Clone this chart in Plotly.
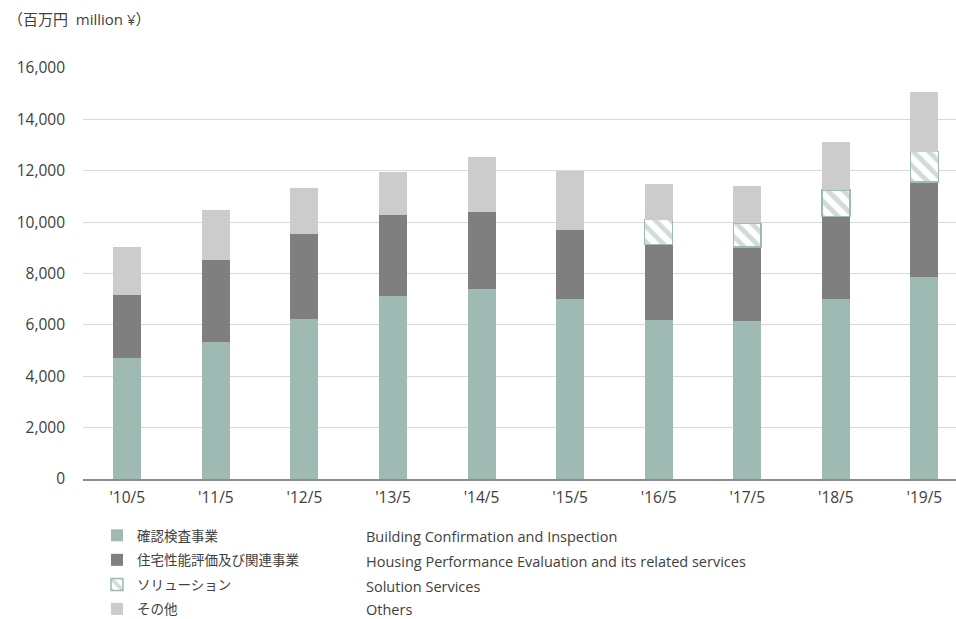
import plotly.graph_objects as go

# ---- data ----
years = ["'10/5", "'11/5", "'12/5", "'13/5", "'14/5", "'15/5", "'16/5", "'17/5", "'18/5", "'19/5"]
confirmation = [4710, 5330, 6230, 7130, 7380, 7000, 6190, 6160, 7020, 7860]
housing = [2440, 3180, 3320, 3140, 3010, 2690, 2930, 2880, 3190, 3700]
solution = [None, None, None, None, None, None, 980, 910, 1040, 1180]
others = [1880, 1960, 1760, 1690, 2130, 2290, 1400, 1440, 1880, 2340]

names_ja = ["確認検査事業", "住宅性能評価及び関連事業", "ソリューション", "その他"]
names_en = ["Building Confirmation and Inspection",
            "Housing Performance Evaluation and its related services",
            "Solution Services", "Others"]
y_ticks = [0, 2000, 4000, 6000, 8000, 10000, 12000, 14000, 16000]

# ---- style / layout constants ----
W, H = 956, 619
L, R, T, B = 83, 956, 68, 479
GREEN, DARK, LIGHT = "#9fbab3", "#7f7f7f", "#cccccc"
FONT = "Open Sans, Noto Sans CJK JP, sans-serif"
TXT = "#404040"


def px(x):
    return (x - L) / (R - L)


def py(y):
    return (B - y) / (B - T)


fig = go.Figure()
fig.add_bar(x=years, y=confirmation, name=names_ja[0], legendgroup="a",
            marker=dict(color=GREEN, line=dict(width=0)))
fig.add_bar(x=years, y=housing, name=names_ja[1], legendgroup="b",
            marker=dict(color=DARK, line=dict(width=0)))
fig.add_bar(x=years, y=solution, name=names_ja[2], legendgroup="c",
            marker=dict(color="white", line=dict(width=1.5, color=GREEN),
                        pattern=dict(shape="\\", fgcolor=GREEN, bgcolor="white",
                                     size=11, solidity=0.45)))
fig.add_bar(x=years, y=others, name=names_ja[3], legendgroup="d",
            marker=dict(color=LIGHT, line=dict(width=0)))

annotations = [dict(text="（百万円  million ¥）", x=px(6), y=py(19), xref="paper", yref="paper",
                    xanchor="left", yanchor="middle", showarrow=False,
                    font=dict(size=15, color=TXT, family=FONT))]
row_y = [536, 561, 586, 609]
for name, ry in zip(names_en, row_y):
    annotations.append(dict(text=name, x=px(364), y=py(ry), xref="paper", yref="paper",
                            xanchor="left", yanchor="middle", showarrow=False,
                            font=dict(size=14.5, color=TXT, family=FONT)))

fig.update_layout(
    width=W, height=H,
    margin=dict(l=L, r=W - R, t=T, b=H - B, autoexpand=False),
    barmode="stack", bargap=0.684,
    plot_bgcolor="white", paper_bgcolor="white",
    font=dict(family=FONT, color=TXT, size=13),
    showlegend=True,
    legend=dict(xref="container", yref="container", x=97 / W, y=1 - 520 / H,
                xanchor="left", yanchor="top", traceorder="grouped",
                tracegroupgap=4, font=dict(size=13.5, color=TXT, family=FONT),
                bgcolor="rgba(0,0,0,0)"),
    annotations=annotations,
    xaxis=dict(type="category", range=[-0.5, 9.357], showgrid=False,
               showline=True, linecolor="#8c8c8c", linewidth=2,
               ticks="", ticklabelstandoff=3, tickfont=dict(size=15.5, color=TXT)),
    yaxis=dict(range=[0, 16000], tickvals=y_ticks, tickformat=",d",
               showgrid=True, gridcolor="#d9d9d9", gridwidth=1,
               zeroline=False, showline=False, ticks="", ticklabelstandoff=17,
               tickfont=dict(size=15.5, color=TXT)),
)

fig.write_html("out.html", config={"displayModeBar": False},
               post_script="document.body.style.margin='0';document.body.style.padding='0';")
